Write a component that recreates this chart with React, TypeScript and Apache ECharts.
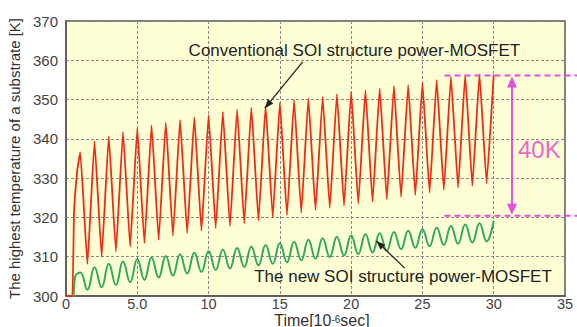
import React, { useEffect, useRef } from 'react';
import * as echarts from 'echarts';

// Tick labels
const xTickLabels = ['0', '5.0', '10', '15', '20', '25', '30', '35'];
const yTickValues = [300, 310, 320, 330, 340, 350, 360, 370];

// Pulse period (10^-6 sec): peaks at t = 1, 2, ... 29, troughs at t = 1.5, 2.5, ... 29.5
const pulsePeakTimes = [1, 2, 3, 4, 5, 6, 7, 8, 9, 10, 11, 12, 13, 14, 15, 16, 17, 18, 19, 20, 21, 22, 23, 24, 25, 26, 27, 28, 29];
const pulseTroughTimes = [1.5, 2.5, 3.5, 4.5, 5.5, 6.5, 7.5, 8.5, 9.5, 10.5, 11.5, 12.5, 13.5, 14.5, 15.5, 16.5, 17.5, 18.5, 19.5, 20.5, 21.5, 22.5, 23.5, 24.5, 25.5, 26.5, 27.5, 28.5, 29.5];

// Conventional SOI structure (red)
const redStart: [number, number][] = [[0, 300], [0.44, 300], [0.56, 321], [0.79, 332]];
const redPeaks = [336.6, 339.4, 340.7, 341.8, 342.7, 343.5, 344.2, 344.8, 345.5, 346.1, 346.9, 347.5, 348.0, 348.4, 349.2, 349.9, 350.3, 350.7, 351.4, 352.0, 352.4, 352.9, 353.5, 353.7, 354.3, 355.0, 355.8, 356.3, 356.5];
const redTroughs = [308.1, 310.0, 311.3, 312.6, 313.4, 314.3, 315.3, 316.0, 316.6, 317.2, 317.8, 318.5, 319.2, 320.0, 320.6, 321.2, 321.8, 322.4, 323.0, 323.5, 324.0, 324.6, 325.2, 325.7, 326.3, 327.0, 327.6, 328.0, 328.7];
const redEnd: [number, number] = [30, 356.3];

// New SOI structure (green)
const greenStart: [number, number][] = [[0, 300], [0.5, 300], [0.56, 302], [0.65, 305]];
const greenPeaks = [306.0, 307.3, 308.2, 308.8, 309.4, 309.8, 310.2, 310.6, 311.0, 311.4, 311.8, 312.2, 312.6, 313.0, 313.4, 313.8, 314.3, 314.7, 315.1, 315.4, 315.7, 316.0, 316.3, 316.6, 317.0, 317.4, 317.8, 318.2, 318.5];
const greenTroughs = [301.6, 302.2, 302.8, 303.5, 304.1, 304.7, 305.2, 305.7, 306.1, 306.6, 307.0, 307.4, 307.8, 308.2, 308.6, 309.1, 309.5, 309.9, 310.3, 310.7, 311.1, 311.5, 311.9, 312.3, 312.7, 313.0, 313.3, 313.6, 313.9];
const greenEnd: [number, number] = [30, 319.2];

// Annotation anchors (data units)
const upperLevel = 356.1;
const lowerLevel = 320.4;

function buildSeries(start: [number, number][], peaks: number[], troughs: number[], end: [number, number]) {
  const out: [number, number][] = [...start];
  for (let i = 0; i < peaks.length; i++) {
    out.push([pulsePeakTimes[i], peaks[i]]);
    out.push([pulseTroughTimes[i], troughs[i]]);
  }
  out.push(end);
  return out;
}

const FONT = '"Liberation Sans", Arial, sans-serif';

export default function App() {
  const ref = useRef<HTMLDivElement>(null);
  useEffect(() => {
    const chart = echarts.init(ref.current!, null, { renderer: 'svg' });
    chart.setOption({
      animation: false,
      backgroundColor: '#ffffff',
      grid: {
        left: 66, right: 12, top: 21, bottom: 31,
        show: true, backgroundColor: '#FFFFD6', borderColor: '#555', borderWidth: 1.5,
        containLabel: false, outerBoundsMode: 'none',
      },
      xAxis: {
        type: 'value', min: 0, max: 35, interval: 5,
        axisLine: { show: true, lineStyle: { color: '#555', width: 1.5 } },
        axisTick: { show: false },
        axisLabel: {
          color: '#444', fontSize: 14.5, fontFamily: FONT, margin: 2, lineHeight: 12,
          formatter: (v: number) => xTickLabels[Math.round(v / 5)] ?? String(v),
        },
        splitLine: { show: true, lineStyle: { color: '#8a8a8a', type: [3, 2], width: 1 } },
      },
      yAxis: {
        type: 'value', min: yTickValues[0], max: yTickValues[yTickValues.length - 1], interval: 10,
        axisLine: { show: true, lineStyle: { color: '#555', width: 1.5 } },
        axisTick: { show: false },
        axisLabel: { color: '#444', fontSize: 15, fontFamily: FONT, margin: 8 },
        splitLine: { show: true, lineStyle: { color: '#8a8a8a', type: [3, 2], width: 1 } },
        name: 'The highest temperature of a substrate [K]',
        nameLocation: 'middle', nameGap: 36,
        nameTextStyle: { fontSize: 15, color: '#333', fontFamily: FONT },
      },
      series: [
        {
          type: 'line', name: 'new', data: buildSeries(greenStart, greenPeaks, greenTroughs, greenEnd),
          showSymbol: false, smooth: 0.45, lineStyle: { color: '#2FAA5C', width: 2 }, z: 2,
        },
        {
          type: 'line', name: 'conv', data: buildSeries(redStart, redPeaks, redTroughs, redEnd),
          showSymbol: false, smooth: 0.1, lineStyle: { color: '#F02A14', width: 1.8 }, z: 3,
        },
      ],
    });

    const px = (x: number, y: number) => chart.convertToPixel({ gridIndex: 0 }, [x, y]) as number[];
    const head = (tip: number[], from: number[], len: number, half: number) => {
      const dx = tip[0] - from[0], dy = tip[1] - from[1];
      const d = Math.hypot(dx, dy) || 1;
      const ux = dx / d, uy = dy / d;
      const bx = tip[0] - ux * len, by = tip[1] - uy * len;
      return [[tip[0], tip[1]], [bx - uy * half, by + ux * half], [bx + uy * half, by - ux * half]];
    };
    const W = 577;
    const magenta = '#E64FE0';

    const up = px(26.55, upperLevel);
    const lo = px(26.55, lowerLevel);
    const ax = px(31.28, upperLevel)[0];
    const a1s = px(16.6, 359.6), a1e = px(13.95, 347.8);
    const a2s = px(23.76, 307.1), a2e = px(21.77, 314.0);
    const t1 = px(8.6, 362.6);
    const t2 = px(13.2, 304.9);
    const t3 = px(31.7, 337.3);
    const xName = px(17.95, 300);

    chart.setOption({
      graphic: [
        { type: 'line', shape: { x1: up[0], y1: up[1], x2: W, y2: up[1] }, style: { stroke: magenta, lineWidth: 2, lineDash: [6, 4] }, z: 10 },
        { type: 'line', shape: { x1: lo[0], y1: lo[1], x2: W, y2: lo[1] }, style: { stroke: magenta, lineWidth: 2, lineDash: [6, 4] }, z: 10 },
        { type: 'line', shape: { x1: ax, y1: up[1] + 8, x2: ax, y2: lo[1] - 8 }, style: { stroke: magenta, lineWidth: 2 }, z: 10 },
        { type: 'polygon', shape: { points: head([ax, up[1] + 1], [ax, lo[1]], 11, 5) }, style: { fill: magenta }, z: 10 },
        { type: 'polygon', shape: { points: head([ax, lo[1] - 1], [ax, up[1]], 11, 5) }, style: { fill: magenta }, z: 10 },
        { type: 'text', x: t3[0], y: t3[1], style: { text: '40K', fill: '#EC66CC', fontSize: 24, fontFamily: FONT, verticalAlign: 'middle' }, z: 10 },

        { type: 'line', shape: { x1: a1s[0], y1: a1s[1], x2: a1e[0], y2: a1e[1] }, style: { stroke: '#222', lineWidth: 1.3 }, z: 10 },
        { type: 'polygon', shape: { points: head(a1e, a1s, 9, 3.5) }, style: { fill: '#222' }, z: 10 },
        { type: 'line', shape: { x1: a2s[0], y1: a2s[1], x2: a2e[0], y2: a2e[1] }, style: { stroke: '#222', lineWidth: 1.3 }, z: 10 },
        { type: 'polygon', shape: { points: head(a2e, a2s, 9, 3.5) }, style: { fill: '#222' }, z: 10 },

        { type: 'text', x: t1[0], y: t1[1], style: { text: 'Conventional SOI structure power-MOSFET', fill: '#222', fontSize: 17, fontFamily: FONT, verticalAlign: 'middle' }, z: 10 },
        { type: 'text', x: t2[0], y: t2[1], style: { text: 'The new SOI structure power-MOSFET', fill: '#222', fontSize: 17, fontFamily: FONT, verticalAlign: 'middle' }, z: 10 },

        {
          type: 'text', x: xName[0], y: 328, z: 10,
          style: {
            text: '{a|Time[10}{s|-6}{a|sec]}', align: 'center', verticalAlign: 'bottom', fontFamily: FONT,
            rich: {
              a: { fontSize: 16, fill: '#333', fontFamily: FONT, lineHeight: 14, verticalAlign: 'bottom' },
              s: { fontSize: 10, fill: '#333', fontFamily: FONT, lineHeight: 14, verticalAlign: 'top' },
            },
          },
        },
      ],
    });
    return () => chart.dispose();
  }, []);
  return <div ref={ref} style={{ position: 'absolute', left: 0, top: 0, width: 577, height: 327 }} />;
}
